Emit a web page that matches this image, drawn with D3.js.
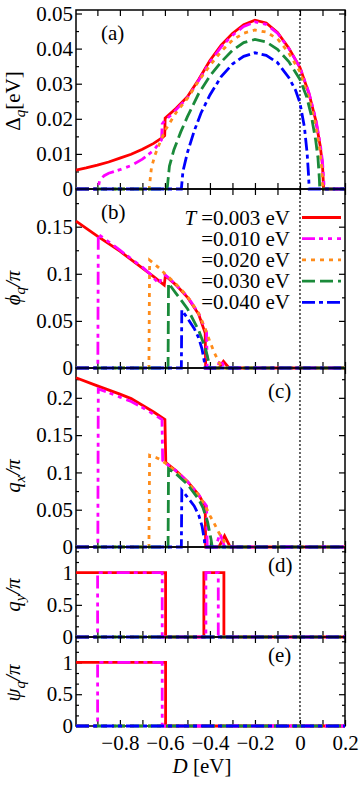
<!DOCTYPE html>
<html>
<head>
<meta charset="utf-8">
<script src="https://cdn.jsdelivr.net/npm/d3@7"></script>
<style>
  body { margin: 0; background: #fff; }
  svg { display: block; }
  text { font-family: "Liberation Serif", "DejaVu Serif", serif; }
</style>
</head>
<body>
<div id="chart"></div>
<script>
// Temperatures of the five curves
var temps = ["0.003", "0.010", "0.020", "0.030", "0.040"];

// x ticks (D in eV)
var xTicks = [-0.9, -0.8, -0.7, -0.6, -0.5, -0.4, -0.3, -0.2, -0.1, 0, 0.1, 0.2];
var xLabels = [-0.8, -0.6, -0.4, -0.2, 0, 0.2];

// (a) Delta_q [eV], one array per temperature, [D, value]
var gapT1 = [[-0.995,0.0054],[-0.95,0.0060],[-0.9,0.0068],[-0.85,0.0077],[-0.8,0.0088],[-0.75,0.0099],[-0.7,0.0113],[-0.65,0.0130],[-0.61,0.0147],[-0.601,0.0152],[-0.599,0.0202],[-0.55,0.0230],[-0.5,0.0263],[-0.45,0.0312],[-0.4,0.0366],[-0.35,0.0410],[-0.3,0.0443],[-0.25,0.0468],[-0.2,0.0481],[-0.15,0.0473],[-0.1,0.0446],[-0.05,0.0402],[0,0.0346],[0.04,0.0272],[0.07,0.0196],[0.09,0.0122],[0.1,0.0068],[0.105,0],[0.2,0]];
var gapT2 = [[-0.995,0],[-0.897,0],[-0.89,0.0025],[-0.87,0.0038],[-0.85,0.0045],[-0.8,0.0055],[-0.75,0.0067],[-0.7,0.0085],[-0.65,0.0110],[-0.615,0.0140],[-0.612,0.0185],[-0.6,0.0196],[-0.57,0.0212],[-0.55,0.0226],[-0.5,0.0260],[-0.45,0.0309],[-0.4,0.0362],[-0.35,0.0405],[-0.3,0.0438],[-0.25,0.0463],[-0.2,0.0476],[-0.15,0.0469],[-0.1,0.0444],[-0.05,0.0401],[0,0.0346],[0.04,0.0274],[0.07,0.0200],[0.09,0.0128],[0.1,0.0078],[0.108,0],[0.2,0]];
var gapT3 = [[-0.995,0],[-0.67,0],[-0.66,0.006],[-0.645,0.0095],[-0.63,0.012],[-0.6,0.0166],[-0.55,0.0218],[-0.5,0.0258],[-0.45,0.0308],[-0.4,0.0352],[-0.35,0.0392],[-0.3,0.0424],[-0.25,0.0444],[-0.2,0.0453],[-0.15,0.0447],[-0.1,0.0428],[-0.05,0.0388],[0,0.0334],[0.04,0.0258],[0.07,0.0182],[0.09,0.0105],[0.098,0.005],[0.101,0],[0.2,0]];
var gapT4 = [[-0.995,0],[-0.59,0],[-0.58,0.0065],[-0.56,0.0112],[-0.53,0.0162],[-0.5,0.0206],[-0.45,0.0272],[-0.4,0.0322],[-0.35,0.0362],[-0.3,0.0395],[-0.25,0.0417],[-0.2,0.0426],[-0.15,0.0419],[-0.1,0.0398],[-0.05,0.0363],[0,0.0312],[0.03,0.0262],[0.05,0.0210],[0.07,0.0138],[0.08,0.0088],[0.086,0.003],[0.088,0],[0.2,0]];
var gapT5 = [[-0.995,0],[-0.527,0],[-0.52,0.005],[-0.5,0.0104],[-0.47,0.0165],[-0.44,0.0216],[-0.4,0.0268],[-0.35,0.0320],[-0.3,0.0356],[-0.25,0.0378],[-0.2,0.0388],[-0.15,0.0381],[-0.1,0.0360],[-0.05,0.0318],[-0.02,0.0282],[0,0.0245],[0.02,0.0175],[0.032,0.010],[0.038,0.004],[0.041,0],[0.2,0]];

// (b) phi_q / pi
var phiT1 = [[-0.995,0.156],[-0.9,0.140],[-0.8,0.124],[-0.7,0.106],[-0.65,0.097],[-0.603,0.088],[-0.598,0.098],[-0.55,0.088],[-0.5,0.075],[-0.45,0.057],[-0.421,0.037],[-0.419,0],[-0.36,0],[-0.34,0.007],[-0.315,0],[0.2,0]];
var phiT2 = [[-0.995,0],[-0.898,0],[-0.896,0.142],[-0.85,0.134],[-0.8,0.125],[-0.75,0.116],[-0.7,0.107],[-0.667,0.100],[-0.64,0.093],[-0.625,0.089],[-0.615,0.097],[-0.6,0.099],[-0.58,0.095],[-0.55,0.088],[-0.5,0.076],[-0.45,0.058],[-0.415,0.038],[-0.412,0],[-0.37,0],[-0.352,0.009],[-0.335,0],[0.2,0]];
var phiT3 = [[-0.995,0],[-0.671,0],[-0.668,0.1145],[-0.65,0.111],[-0.62,0.105],[-0.6,0.100],[-0.55,0.089],[-0.5,0.076],[-0.45,0.058],[-0.42,0.041],[-0.4,0.028],[-0.38,0.016],[-0.36,0.006],[-0.345,0],[0.2,0]];
var phiT4 = [[-0.995,0],[-0.586,0],[-0.584,0.090],[-0.55,0.079],[-0.5,0.063],[-0.45,0.040],[-0.42,0.021],[-0.405,0.006],[-0.4,0],[0.2,0]];
var phiT5 = [[-0.995,0],[-0.527,0],[-0.525,0.0615],[-0.5,0.053],[-0.47,0.042],[-0.45,0.032],[-0.435,0.020],[-0.425,0.007],[-0.422,0],[0.2,0]];

// (c) q_x / pi
var qxT1 = [[-0.995,0.227],[-0.9,0.216],[-0.8,0.205],[-0.75,0.199],[-0.7,0.190],[-0.65,0.181],[-0.6,0.171],[-0.596,0.113],[-0.55,0.102],[-0.5,0.088],[-0.45,0.070],[-0.421,0.055],[-0.419,0],[-0.36,0],[-0.335,0.015],[-0.31,0],[0.2,0]];
var qxT2 = [[-0.995,0],[-0.898,0],[-0.896,0.212],[-0.85,0.207],[-0.8,0.201],[-0.75,0.195],[-0.7,0.187],[-0.65,0.178],[-0.613,0.171],[-0.61,0.116],[-0.6,0.113],[-0.55,0.102],[-0.5,0.088],[-0.45,0.070],[-0.415,0.055],[-0.412,0],[-0.375,0],[-0.355,0.018],[-0.335,0],[0.2,0]];
var qxT3 = [[-0.995,0],[-0.671,0],[-0.668,0.123],[-0.64,0.120],[-0.62,0.117],[-0.6,0.113],[-0.55,0.101],[-0.5,0.087],[-0.45,0.069],[-0.42,0.055],[-0.4,0.042],[-0.38,0.031],[-0.36,0.019],[-0.34,0.009],[-0.325,0],[0.2,0]];
var qxT4 = [[-0.995,0],[-0.586,0],[-0.584,0.105],[-0.55,0.098],[-0.5,0.084],[-0.45,0.064],[-0.43,0.052],[-0.41,0.033],[-0.395,0.010],[-0.39,0],[0.2,0]];
var qxT5 = [[-0.995,0],[-0.527,0],[-0.525,0.076],[-0.5,0.067],[-0.47,0.055],[-0.45,0.043],[-0.435,0.028],[-0.425,0.010],[-0.422,0],[0.2,0]];

// (d) q_y / pi
var qyT1 = [[-0.995,1],[-0.597,1],[-0.597,0],[-0.427,0],[-0.427,1],[-0.338,1],[-0.338,0],[0.2,0]];
var qyT2 = [[-0.995,0],[-0.899,0],[-0.899,1],[-0.612,1],[-0.612,0],[-0.418,0],[-0.418,1],[-0.363,1],[-0.363,0],[0.2,0]];
var qyT3 = [[-0.995,0],[0.2,0]];
var qyT4 = [[-0.995,0],[0.2,0]];
var qyT5 = [[-0.995,0],[0.2,0]];

// (e) psi_q / pi
var psiT1 = [[-0.995,1],[-0.597,1],[-0.597,0],[0.2,0]];
var psiT2 = [[-0.995,0],[-0.899,0],[-0.899,1],[-0.612,1],[-0.612,0],[0.2,0]];
var psiT3 = [[-0.995,0],[0.2,0]];
var psiT4 = [[-0.995,0],[0.2,0]];
var psiT5 = [[-0.995,0],[0.2,0]];

// y tick values per panel
var yTicksA = [0, 0.01, 0.02, 0.03, 0.04, 0.05];
var yTicksB = [0, 0.05, 0.1, 0.15];
var yTicksC = [0, 0.05, 0.1, 0.15, 0.2];
var yTicksD = [0, 0.5, 1];
var yTicksE = [0, 0.5, 1];

// Line styles for the five temperatures
var colors = ["#ff0000", "#ff00ff", "#ff8c1a", "#1a8a3a", "#0000ff"];
var dashes = [null, "13,4,4,5,4,5", "4,5", "13,5", "13,4,4,4"];

// SVG
var svgWdt = 360, svgHgt = 787;
var svg = d3.select("#chart").append("svg")
    .attr("width", svgWdt)
    .attr("height", svgHgt);

var xLeft = 76, xRight = 345;
var x = d3.scaleLinear().domain([-0.995, 0.2]).range([xLeft, xRight]);

var panels = [
    {top: 10,  bot: 189, max: 0.051, ticks: yTicksA, minor: 0.005, series: [gapT1, gapT2, gapT3, gapT4, gapT5],
     tag: "(a)", tagX: 101, tagY: 40, labY: 101, lab: [["Δ", ""], ["q", "sub"], ["[eV]", ""]]},
    {top: 189, bot: 368, max: 0.19, ticks: yTicksB, minor: 0.025, series: [phiT1, phiT2, phiT3, phiT4, phiT5],
     tag: "(b)", tagX: 101, tagY: 219, labY: 288, lab: [["ϕ", "it"], ["q", "sub"], ["/π", "it"]]},
    {top: 368, bot: 547, max: 0.24, ticks: yTicksC, minor: 0.025, series: [qxT1, qxT2, qxT3, qxT4, qxT5],
     tag: "(c)", tagX: 268, tagY: 398, labY: 476, lab: [["q", "it"], ["x", "sub"], ["/π", "it"]]},
    {top: 547, bot: 637, max: 1.4, ticks: yTicksD, minor: 1 / 6, series: [qyT1, qyT2, qyT3, qyT4, qyT5],
     tag: "(d)", tagX: 268, tagY: 572, labY: 595, lab: [["q", "it"], ["y", "sub"], ["/π", "it"]]},
    {top: 637, bot: 726, max: 1.4, ticks: yTicksE, minor: 1 / 6, series: [psiT1, psiT2, psiT3, psiT4, psiT5],
     tag: "(e)", tagX: 268, tagY: 662, labY: 683, lab: [["ψ", "it"], ["q", "sub"], ["/π", "it"]]}
];

var fontSz = 21;

panels.forEach(function(p, pi) {
    var y = d3.scaleLinear().domain([0, p.max]).range([p.bot, p.top]);
    var g = svg.append("g");
    var last = pi === panels.length - 1;

    // minor y ticks
    var minorVals = d3.range(0, p.max + 1e-9, p.minor).filter(function(v) {
        return !p.ticks.some(function(t) { return Math.abs(t - v) < 1e-6; });
    });
    g.append("g").attr("transform", `translate(${xLeft},0)`)
        .call(d3.axisLeft(y).tickValues(minorVals).tickSize(-3).tickFormat(""));
    g.append("g").attr("transform", `translate(${xRight},0)`)
        .call(d3.axisRight(y).tickValues(minorVals).tickSize(-3).tickFormat(""));

    // major y ticks
    g.append("g").attr("class", "ylab").attr("transform", `translate(${xLeft},0)`)
        .call(d3.axisLeft(y).tickValues(p.ticks).tickSize(-6).tickPadding(3).tickFormat(d3.format("~g")));
    g.append("g").attr("transform", `translate(${xRight},0)`)
        .call(d3.axisRight(y).tickValues(p.ticks).tickSize(-6).tickFormat(""));

    // x ticks top and bottom
    g.append("g").attr("transform", `translate(0,${p.top})`)
        .call(d3.axisTop(x).tickValues(xTicks).tickSize(-6).tickFormat(""));
    g.append("g").attr("class", "xlab").attr("transform", `translate(0,${p.bot})`)
        .call(d3.axisBottom(x).tickValues(xTicks).tickSize(-6).tickPadding(9)
            .tickFormat(function(d) {
                if (!last) return "";
                var keep = xLabels.some(function(v) { return Math.abs(v - d) < 1e-6; });
                return keep ? d3.format("~g")(Math.round(d * 10) / 10) : "";
            }));

    g.selectAll(".domain").remove();
    g.selectAll(".tick line").attr("stroke", "#000").attr("stroke-width", 1.2);
    g.selectAll(".tick text").attr("font-size", fontSz).attr("fill", "#000")
        .attr("font-family", "Liberation Serif, serif");

    // dotted line at D = 0
    g.append("line")
        .attr("x1", x(0)).attr("x2", x(0))
        .attr("y1", p.top).attr("y2", p.bot)
        .attr("stroke", "#000").attr("stroke-width", 1.2)
        .attr("stroke-dasharray", "2,2");

    // frame
    g.append("rect")
        .attr("x", xLeft).attr("y", p.top)
        .attr("width", xRight - xLeft).attr("height", p.bot - p.top)
        .attr("fill", "none").attr("stroke", "#000").attr("stroke-width", 1.5);

    // curves
    var line = d3.line().x(d => x(d[0])).y(d => y(d[1]));
    p.series.forEach(function(s, si) {
        g.append("path")
            .datum(s)
            .attr("d", line)
            .attr("fill", "none")
            .attr("stroke", colors[si])
            .attr("stroke-width", 2.8)
            .attr("stroke-dasharray", dashes[si]);
    });

    // panel tag
    g.append("text")
        .attr("x", p.tagX).attr("y", p.tagY)
        .attr("font-size", fontSz)
        .text(p.tag);

    // y label
    var yl = g.append("text")
        .attr("transform", `translate(20,${p.labY}) rotate(-90)`)
        .attr("text-anchor", "middle")
        .attr("font-size", fontSz);
    var shifted = false;
    p.lab.forEach(function(part) {
        var ts = yl.append("tspan").text(part[0]);
        if (part[1] === "sub") {
            ts.attr("font-size", 15).attr("font-style", "italic").attr("dy", 5);
            shifted = true;
        } else {
            if (part[1] === "it") ts.attr("font-style", "italic");
            if (shifted) { ts.attr("dy", -5); shifted = false; }
        }
    });
});

// x label
var xl = svg.append("text")
    .attr("x", 202).attr("y", 773)
    .attr("text-anchor", "middle")
    .attr("font-size", fontSz);
xl.append("tspan").attr("font-style", "italic").text("D");
xl.append("tspan").text(" [eV]");

// Legend in panel (b)
var legY = d3.range(temps.length).map(i => 217.5 + i * 21.2);
temps.forEach(function(t, i) {
    var txt = svg.append("text")
        .attr("x", 290).attr("y", legY[i] + 7)
        .attr("text-anchor", "end")
        .attr("font-size", fontSz);
    if (i === 0) {
        txt.append("tspan").attr("font-style", "italic").text("T ");
    }
    txt.append("tspan").text("=" + t + " eV");
    svg.append("line")
        .attr("x1", 302).attr("x2", 341)
        .attr("y1", legY[i]).attr("y2", legY[i])
        .attr("stroke", colors[i])
        .attr("stroke-width", 2.8)
        .attr("stroke-dasharray", dashes[i]);
});
</script>
</body>
</html>
